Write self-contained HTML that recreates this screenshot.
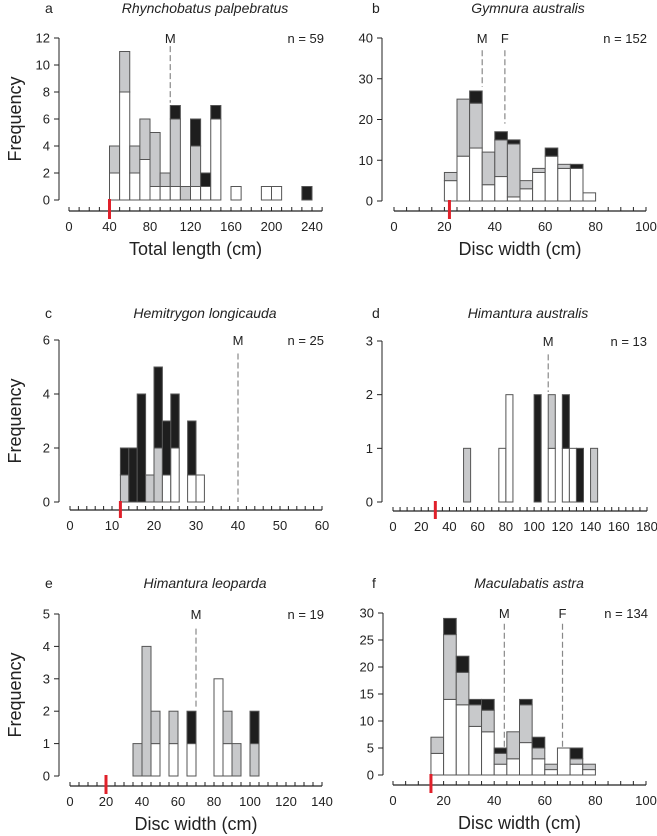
<!DOCTYPE html>
<html><head><meta charset="utf-8"><style>
html,body{margin:0;padding:0;background:#fff;}
svg{display:block;font-family:"Liberation Sans",Arial,sans-serif;}
</style></head><body>
<svg id="chart" width="657" height="836" viewBox="0 0 657 836"></svg>
<script>
// Panel a: Rhynchobatus palpebratus (bins of 10 cm, start values)
const aBins = [40,50,60,70,80,90,100,110,120,130,140,160,190,200,230];
const aWhite = [2,8,2,3,1,1,1,0,1,1,6,1,1,1,0];
const aGray  = [2,3,2,3,4,1,5,1,3,0,0,0,0,0,0];
const aBlack = [0,0,0,0,0,0,1,0,2,1,1,0,0,0,1];
const aYTicks = [0,2,4,6,8,10,12];
const aXTicks = [0,40,80,120,160,200,240];
// Panel b: Gymnura australis
const bBins = [20,25,30,35,40,45,50,55,60,65,70,75];
const bWhite = [5,11,13,4,6,1,3,7,11,8,8,2];
const bGray  = [2,14,11,8,9,13,2,1,0,1,0,0];
const bBlack = [0,0,3,0,2,1,0,0,2,0,1,0];
const bYTicks = [0,10,20,30,40];
const bXTicks = [0,20,40,60,80,100];
// Panel c: Hemitrygon longicauda
const cBins = [12,14,16,18,20,22,24,28,30];
const cWhite = [0,0,0,0,0,1,2,1,1];
const cGray  = [1,0,0,1,2,0,0,0,0];
const cBlack = [1,2,4,0,3,2,2,2,0];
const cYTicks = [0,2,4,6];
const cXTicks = [0,10,20,30,40,50,60];
// Panel d: Himantura australis
const dBins = [50,75,80,100,110,120,125,130,140];
const dWhite = [0,1,2,0,1,1,1,0,0];
const dGray  = [1,0,0,0,1,0,0,0,1];
const dBlack = [0,0,0,2,0,1,0,1,0];
const dYTicks = [0,1,2,3];
const dXTicks = [0,20,40,60,80,100,120,140,160,180];
// Panel e: Himantura leoparda
const eBins = [35,40,45,55,65,80,85,90,100];
const eWhite = [0,0,1,1,1,3,1,0,0];
const eGray  = [1,4,1,1,0,0,1,1,1];
const eBlack = [0,0,0,0,1,0,0,0,1];
const eYTicks = [0,1,2,3,4,5];
const eXTicks = [0,20,40,60,80,100,120,140];
// Panel f: Maculabatis astra
const fBins = [15,20,25,30,35,40,45,50,55,60,65,70,75];
const fWhite = [4,14,13,9,8,2,3,6,3,1,5,2,1];
const fGray  = [3,12,6,4,4,2,5,7,2,1,0,1,1];
const fBlack = [0,3,3,1,2,1,0,1,2,0,0,2,0];
const fYTicks = [0,5,10,15,20,25,30];
const fXTicks = [0,20,40,60,80,100];

const NS="http://www.w3.org/2000/svg";
const svg=document.getElementById('chart');
function mk(tag,attrs,parent,text){const e=document.createElementNS(NS,tag);for(const k in attrs)e.setAttribute(k,attrs[k]);if(text!==undefined)e.textContent=text;(parent||svg).appendChild(e);return e;}

const panels=[
 {id:'a',title:'Rhynchobatus palpebratus',n:'n = 59',bins:aBins,w:aWhite,g:aGray,b:aBlack,bw:10,yT:aYTicks,xT:aXTicks,ymax:12,xmax:250,minor:10,
  yAx:59,y0:200,yTop:38,xAxY:211,x0:69,xScaleEnd:[240,312],red:40,xtitle:'Total length (cm)',ylab:true,
  marks:[{l:'M',x:100,y1:11.4,y2:7.2}],top:0},
 {id:'b',title:'Gymnura australis',n:'n = 152',bins:bBins,w:bWhite,g:bGray,b:bBlack,bw:5,yT:bYTicks,xT:bXTicks,ymax:40,xmax:100,minor:5,
  yAx:382,y0:201,yTop:38,xAxY:211,x0:394,xScaleEnd:[100,646],red:22,xtitle:'Disc width (cm)',ylab:false,
  marks:[{l:'M',x:35,y1:37,y2:28},{l:'F',x:44,y1:37,y2:19}],top:0},
 {id:'c',title:'Hemitrygon longicauda',n:'n = 25',bins:cBins,w:cWhite,g:cGray,b:cBlack,bw:2,yT:cYTicks,xT:cXTicks,ymax:6,xmax:60,minor:2,
  yAx:59,y0:502,yTop:340,xAxY:510,x0:70,xScaleEnd:[60,322],red:12,xtitle:null,ylab:true,
  marks:[{l:'M',x:40,y1:5.5,y2:0}],top:280},
 {id:'d',title:'Himantura australis',n:'n = 13',bins:dBins,w:dWhite,g:dGray,b:dBlack,bw:5,yT:dYTicks,xT:dXTicks,ymax:3,xmax:180,minor:5,
  yAx:382,y0:502,yTop:341,xAxY:511,x0:393,xScaleEnd:[180,647],red:30,xtitle:null,ylab:false,
  marks:[{l:'M',x:110,y1:2.75,y2:2.05}],top:280},
 {id:'e',title:'Himantura leoparda',n:'n = 19',bins:eBins,w:eWhite,g:eGray,b:eBlack,bw:5,yT:eYTicks,xT:eXTicks,ymax:5,xmax:140,minor:5,
  yAx:59,y0:776,yTop:614,xAxY:786,x0:70,xScaleEnd:[140,322],red:20,xtitle:'Disc width (cm)',ylab:true,
  marks:[{l:'M',x:70,y1:4.55,y2:2.05}],top:556},
 {id:'f',title:'Maculabatis astra',n:'n = 134',bins:fBins,w:fWhite,g:fGray,b:fBlack,bw:5,yT:fYTicks,xT:fXTicks,ymax:30,xmax:100,minor:5,
  yAx:383,y0:775,yTop:613,xAxY:785,x0:393,xScaleEnd:[100,646],red:15,xtitle:'Disc width (cm)',ylab:false,
  marks:[{l:'M',x:44,y1:28,y2:5.2},{l:'F',x:67,y1:28,y2:5.2}],top:556},
];

panels.forEach(p=>{
  const G=mk('g',{});
  
  
  const xs=v=>p.x0+v*(p.xScaleEnd[1]-p.x0)/p.xScaleEnd[0];
  const ys=v=>p.y0-v*(p.y0-p.yTop)/p.ymax;
  const lx=p.yAx<200?45:372;
  const ty=p.top+(p.top===0?13:p.top===280?38:32);
  const pl=mk('text',{x:lx,y:ty,'font-size':14,fill:'#222'},G,p.id);
  
  
  const tt=mk('text',{x:p.yAx+146,y:ty,'font-size':14,'font-style':'italic','text-anchor':'middle',fill:'#222'},G,p.title);
  
  
  const nt=mk('text',{x:p.yAx+265,y:p.yTop+5,'font-size':13,'text-anchor':'end',fill:'#222'},G,p.n);
  
  
  p.bins.forEach((s,i)=>{
    const x1=xs(s),x2=xs(s+p.bw);
    let base=0;
    [[p.w[i],'#ffffff'],[p.g[i],'#c8c9cb'],[p.b[i],'#1e1e1e']].forEach((seg,k)=>{
      if(seg[0]<=0)return;
      const r=mk('rect',{x:x1,y:ys(base+seg[0]),width:x2-x1,height:ys(base)-ys(base+seg[0]),fill:seg[1],stroke:'#555','stroke-width':1},G);
      
      
      base+=seg[0];
    });
  });
  const ya=mk('line',{x1:p.yAx,y1:p.yTop,x2:p.yAx,y2:p.y0,stroke:'#222','stroke-width':1},G);
  
  
  p.yT.forEach(t=>{
    mk('line',{x1:p.yAx-5,y1:ys(t),x2:p.yAx,y2:ys(t),stroke:'#222'},G);
    const tl=mk('text',{x:p.yAx-9,y:ys(t)+4.5,'font-size':13,'text-anchor':'end',fill:'#222'},G,t);
    
    
  });
  const xa=mk('line',{x1:xs(0),y1:p.xAxY,x2:xs(p.xmax),y2:p.xAxY,stroke:'#222','stroke-width':1.2},G);
  
  
  for(let v=0;v<=p.xmax+1e-9;v+=p.minor){
    mk('line',{x1:xs(v),y1:p.xAxY-4,x2:xs(v),y2:p.xAxY,stroke:'#222'},G);
  }
  p.xT.forEach(t=>{
    const tl=mk('text',{x:xs(t),y:p.xAxY+20,'font-size':13,'text-anchor':'middle',fill:'#222'},G,t);
    
    
  });
  const rm=mk('line',{x1:xs(p.red),y1:p.y0-1,x2:xs(p.red),y2:p.xAxY+8,stroke:'#e0202a','stroke-width':3},G);
  
  
  p.marks.forEach(m=>{
    const dl=mk('line',{x1:xs(m.x),y1:ys(m.y1),x2:xs(m.x),y2:ys(m.y2),stroke:'#888','stroke-width':1.2,'stroke-dasharray':'6,3'},G);
    
    
    const ml=mk('text',{x:xs(m.x),y:p.yTop+5,'font-size':13,'text-anchor':'middle',fill:'#222'},G,m.l);
    
    
  });
  if(p.xtitle){
    const xt=mk('text',{x:(xs(0)+xs(p.xmax))/2,y:p.xAxY+44,'font-size':18,'text-anchor':'middle',fill:'#222'},G,p.xtitle);
    
    
  }
  if(p.ylab){
    const cy=(p.y0+p.yTop)/2;
    const yt=mk('text',{x:0,y:0,'font-size':18,'text-anchor':'middle',fill:'#222',transform:`translate(21,${cy}) rotate(-90)`},G,'Frequency');
    
    
  }
});
</script>
</body></html>
